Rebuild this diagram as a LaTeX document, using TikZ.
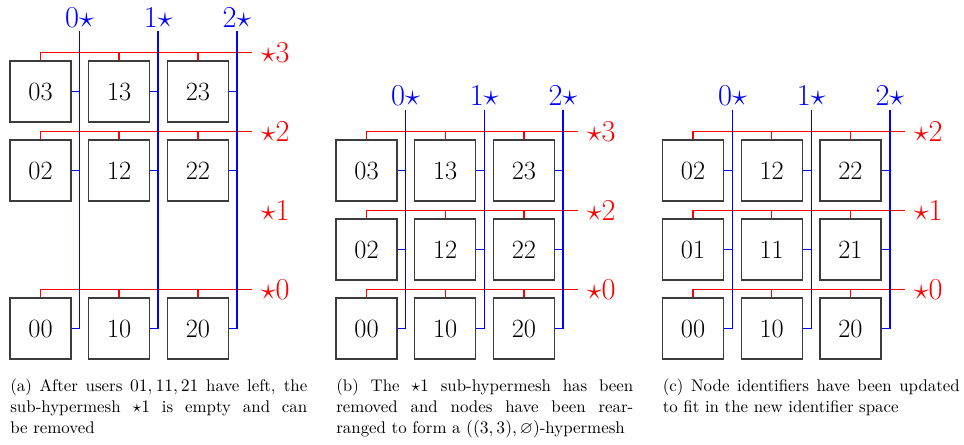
\documentclass[tikz,border=0pt]{standalone}
\usepackage{amssymb}
\usepackage{tikz}
\usetikzlibrary{positioning, calc}
\definecolor{busred}{RGB}{255, 0, 0}
\definecolor{busblue}{RGB}{0, 0, 255}
\definecolor{boxgray}{RGB}{60, 60, 60}
\tikzset{
    peer/.style={
        rectangle, draw=boxgray, line width=0.7pt,
        minimum size=1.22cm, inner sep=0pt,
        font=\fontsize{15}{18}\selectfont
    },
    redbus/.style={color=busred, line width=0.8pt},
    bluebus/.style={color=busblue, line width=0.8pt},
    redlab/.style={text=busred, font=\fontsize{16}{19}\selectfont, anchor=west, inner sep=0pt, xshift=0.17cm},
    bluelab/.style={text=busblue, font=\fontsize{16}{19}\selectfont, anchor=south, inner sep=2pt},
    subcap/.style={
        text width=5.94cm, align=justify, anchor=north west, inner sep=0pt,
        font=\fontsize{9.6}{12.2}\selectfont
    }
}

\begin{document}
\begin{tikzpicture}[x=0.02cm, y=-0.02cm]
    \useasboundingbox (0,0) rectangle (964,444);

    % Panel (a): rows 3, 2 and 0
    \foreach \c in {0,1,2} {
        \foreach \r/\y in {3/91.5, 2/170.5, 0/328.5} {
            \node[peer] (a\c\r) at ({40.5+78.7*\c}, \y) {\c\r};
        }
    }
    \foreach \r/\y in {3/91.5, 2/170.5, 0/328.5} {
        \coordinate (ra\r) at (252, \y-39);
        \draw[redbus] (a0\r.north) |- (ra\r);
        \draw[redbus] (a1\r.north) |- (ra\r);
        \draw[redbus] (a2\r.north) |- (ra\r);
        \node[redlab] (la\r) at (ra\r) {$\star\r$};
    }
    \node[redlab] (la1) at (252, 210.5) {$\star1$};
    \foreach \c in {0,1,2} {
        \coordinate (ba\c) at ({79.5+78.7*\c}, 31);
        \node[bluelab] (lba\c) at (ba\c) {$\c\star$};
        \draw[bluebus] (ba\c) |- (a\c0.east);
        \draw[bluebus] (a\c3.east) -| (ba\c);
        \draw[bluebus] (a\c2.east) -| (ba\c);
    }

    % Panel (b): rows 3, 2 and 0
    \foreach \c in {0,1,2} {
        \foreach \r/\y in {3/170.5, 2/249.5, 0/328.5} {
            \node[peer] (b\c\r) at ({366.5+78.7*\c}, \y) {\c\r};
        }
    }
    \foreach \r/\y in {3/170.5, 2/249.5, 0/328.5} {
        \coordinate (rb\r) at (578, \y-39);
        \draw[redbus] (b0\r.north) |- (rb\r);
        \draw[redbus] (b1\r.north) |- (rb\r);
        \draw[redbus] (b2\r.north) |- (rb\r);
        \node[redlab] (lb\r) at (rb\r) {$\star\r$};
    }
    \foreach \c in {0,1,2} {
        \coordinate (bb\c) at ({405.5+78.7*\c}, 109.5);
        \node[bluelab] (lbb\c) at (bb\c) {$\c\star$};
        \draw[bluebus] (bb\c) |- (b\c0.east);
        \draw[bluebus] (b\c3.east) -| (bb\c);
        \draw[bluebus] (b\c2.east) -| (bb\c);
    }

    % Panel (c): rows 2, 1 and 0
    \foreach \c in {0,1,2} {
        \foreach \r/\y in {2/170.5, 1/249.5, 0/328.5} {
            \node[peer] (c\c\r) at ({693+78.7*\c}, \y) {\c\r};
        }
    }
    \foreach \r/\y in {2/170.5, 1/249.5, 0/328.5} {
        \coordinate (rc\r) at (905, \y-39);
        \draw[redbus] (c0\r.north) |- (rc\r);
        \draw[redbus] (c1\r.north) |- (rc\r);
        \draw[redbus] (c2\r.north) |- (rc\r);
        \node[redlab] (lc\r) at (rc\r) {$\star\r$};
    }
    \foreach \c in {0,1,2} {
        \coordinate (bc\c) at ({732.5+78.7*\c}, 109.5);
        \node[bluelab] (lbc\c) at (bc\c) {$\c\star$};
        \draw[bluebus] (bc\c) |- (c\c0.east);
        \draw[bluebus] (c\c2.east) -| (bc\c);
        \draw[bluebus] (c\c1.east) -| (bc\c);
    }

    % Sub-captions
    \node[subcap] (capa) at (10, 378) {(a) After users $01,11,21$ have left, the\linebreak
        sub-hypermesh $\star1$ is empty and can\linebreak be removed};
    \node[subcap] (capb) at (336, 378) {(b) The $\star1$ sub-hypermesh has been\linebreak
        removed and nodes have been rear-\linebreak ranged to form a $((3,3),\varnothing)$-hypermesh};
    \node[subcap] (capc) at (662.5, 378) {(c) Node identifiers have been updated\linebreak
        to fit in the new identifier space};

\end{tikzpicture}
\end{document}
